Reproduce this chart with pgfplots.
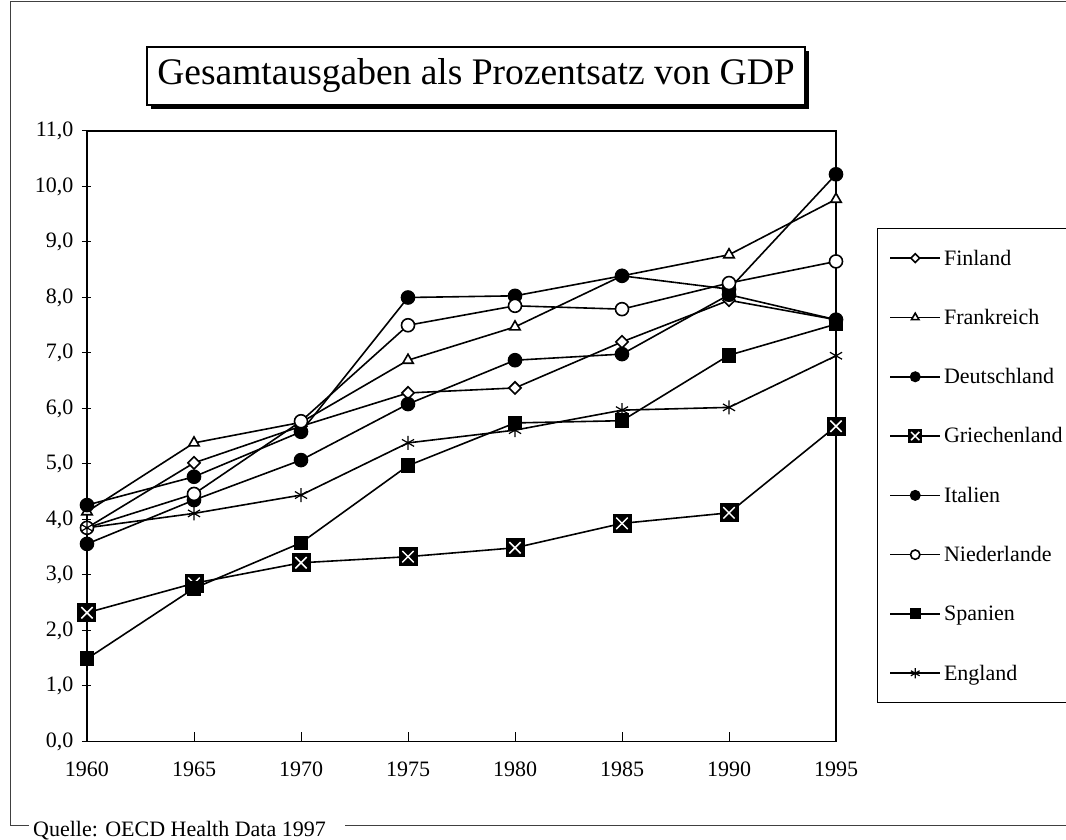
\documentclass[border=0pt]{standalone}
\usepackage{fontspec}
\setmainfont{Liberation Serif}
\usepackage{pgfplots}
\pgfplotsset{compat=1.18}
\pgfdeclareplotmark{sqx}{%
  \pgfpathrectangle{\pgfqpoint{-\pgfplotmarksize}{-\pgfplotmarksize}}{\pgfqpoint{2\pgfplotmarksize}{2\pgfplotmarksize}}%
  \pgfsetfillcolor{black}\pgfusepath{fill}%
  \pgfsetstrokecolor{white}\pgfsetlinewidth{1.5pt}%
  \pgfpathmoveto{\pgfqpoint{-.6\pgfplotmarksize}{-.6\pgfplotmarksize}}%
  \pgfpathlineto{\pgfqpoint{.6\pgfplotmarksize}{.6\pgfplotmarksize}}%
  \pgfpathmoveto{\pgfqpoint{-.6\pgfplotmarksize}{.6\pgfplotmarksize}}%
  \pgfpathlineto{\pgfqpoint{.6\pgfplotmarksize}{-.6\pgfplotmarksize}}%
  \pgfusepath{stroke}%
}
\begin{document}
\begin{tikzpicture}[x=1pt,y=1pt]
\path[use as bounding box] (0,0) rectangle (1066,840);
\clip (0,0) rectangle (1066,840);
% outer frame
\draw[black!75, line width=1pt] (10,14) -- (10,838) -- (1066,838);
\draw[black!75, line width=1pt] (10,14) -- (29,14);
\draw[black!75, line width=1pt] (345,14) -- (1066,14);
\node[anchor=base west, inner sep=0pt, font=\fontsize{22}{26}\selectfont] at (33,3) {Quelle: OECD Health Data 1997};
% title
\fill[black] (151,731) rectangle (809,789);
\node[draw=black, line width=1.2pt, fill=white, minimum width=658pt, minimum height=58pt, inner sep=0pt, font=\fontsize{37.5}{42}\selectfont] at (476,764) {Gesamtausgaben als Prozentsatz von GDP};
\begin{axis}[
  at={(87pt,98.5pt)}, anchor=south west,
  scale only axis, width=749pt, height=610.5pt,
  xmin=1960, xmax=1995, ymin=0, ymax=11,
  xtick={1960,1965,...,1995}, ytick={0,1,...,11},
  tick pos=left,
  tick align=inside,
  major tick length=9pt,
  y tick style={xshift=-5pt},
  tick style={black, line width=1pt},
  axis line style={line width=1.3pt},
  tick label style={font=\fontsize{22}{26}\selectfont},
  /pgf/number format/assume math mode=true,
  xticklabel style={/pgf/number format/1000 sep={}, yshift=-17pt},
  yticklabel style={/pgf/number format/fixed, /pgf/number format/fixed zerofill, /pgf/number format/precision=1, /pgf/number format/use comma, xshift=-10pt},
  every axis plot/.append style={black, line width=1.6pt, mark options={solid, line width=1.2pt}},
  legend image code/.code={\draw[mark repeat=2,mark phase=2,#1,/tikz/every mark/.append style={scale=0.72}] plot coordinates {(0pt,0pt) (25pt,0pt) (50pt,0pt)};},
  legend style={at={(1.0547,0.841)}, anchor=north west, draw=black, line width=0.9pt, fill=white,
    inner xsep=12pt, inner ysep=0pt, row sep=0pt,
    font=\fontsize{22}{26}\selectfont,
    nodes={inner xsep=3pt, inner ysep=0pt, minimum height=59.3pt}},
  legend cell align=left,
]
\addplot[mark=square*, mark size=4.3pt, mark options={rotate=45, fill=white}] coordinates {
(1960,3.85) (1965,5.02) (1970,5.68) (1975,6.28) (1980,6.37) (1985,7.20) (1990,7.95) (1995,7.60)};
\addlegendentry{Finland}
\addplot[mark=triangle*, mark size=6pt, mark options={fill=white}] coordinates {
(1960,4.14) (1965,5.38) (1970,5.75) (1975,6.87) (1980,7.47) (1985,8.39) (1990,8.77) (1995,9.77)};
\addlegendentry{Frankreich}
\addplot[mark=*, mark size=6.5pt, mark options={fill=black}] coordinates {
(1960,4.26) (1965,4.77) (1970,5.58) (1975,8.00) (1980,8.03) (1985,8.39) (1990,8.15) (1995,10.22)};
\addlegendentry{Deutschland}
\addplot[mark=sqx, mark size=9.5pt] coordinates {
(1960,2.32) (1965,2.85) (1970,3.22) (1975,3.33) (1980,3.49) (1985,3.93) (1990,4.12) (1995,5.68)};
\addlegendentry{Griechenland}
\addplot[mark=*, mark size=6.5pt, mark options={fill=black}] coordinates {
(1960,3.56) (1965,4.35) (1970,5.07) (1975,6.08) (1980,6.87) (1985,6.98) (1990,8.05) (1995,7.60)};
\addlegendentry{Italien}
\addplot[mark=*, mark size=6.5pt, mark options={fill=white}] coordinates {
(1960,3.85) (1965,4.46) (1970,5.77) (1975,7.50) (1980,7.85) (1985,7.79) (1990,8.26) (1995,8.65)};
\addlegendentry{Niederlande}
\addplot[mark=square*, mark size=6.5pt, mark options={fill=black}] coordinates {
(1960,1.49) (1965,2.76) (1970,3.58) (1975,4.97) (1980,5.74) (1985,5.78) (1990,6.96) (1995,7.52)};
\addlegendentry{Spanien}
\addplot[mark=asterisk, mark size=7pt] coordinates {
(1960,3.85) (1965,4.11) (1970,4.44) (1975,5.38) (1980,5.61) (1985,5.97) (1990,6.02) (1995,6.95)};
\addlegendentry{England}
\end{axis}
\end{tikzpicture}
\end{document}
